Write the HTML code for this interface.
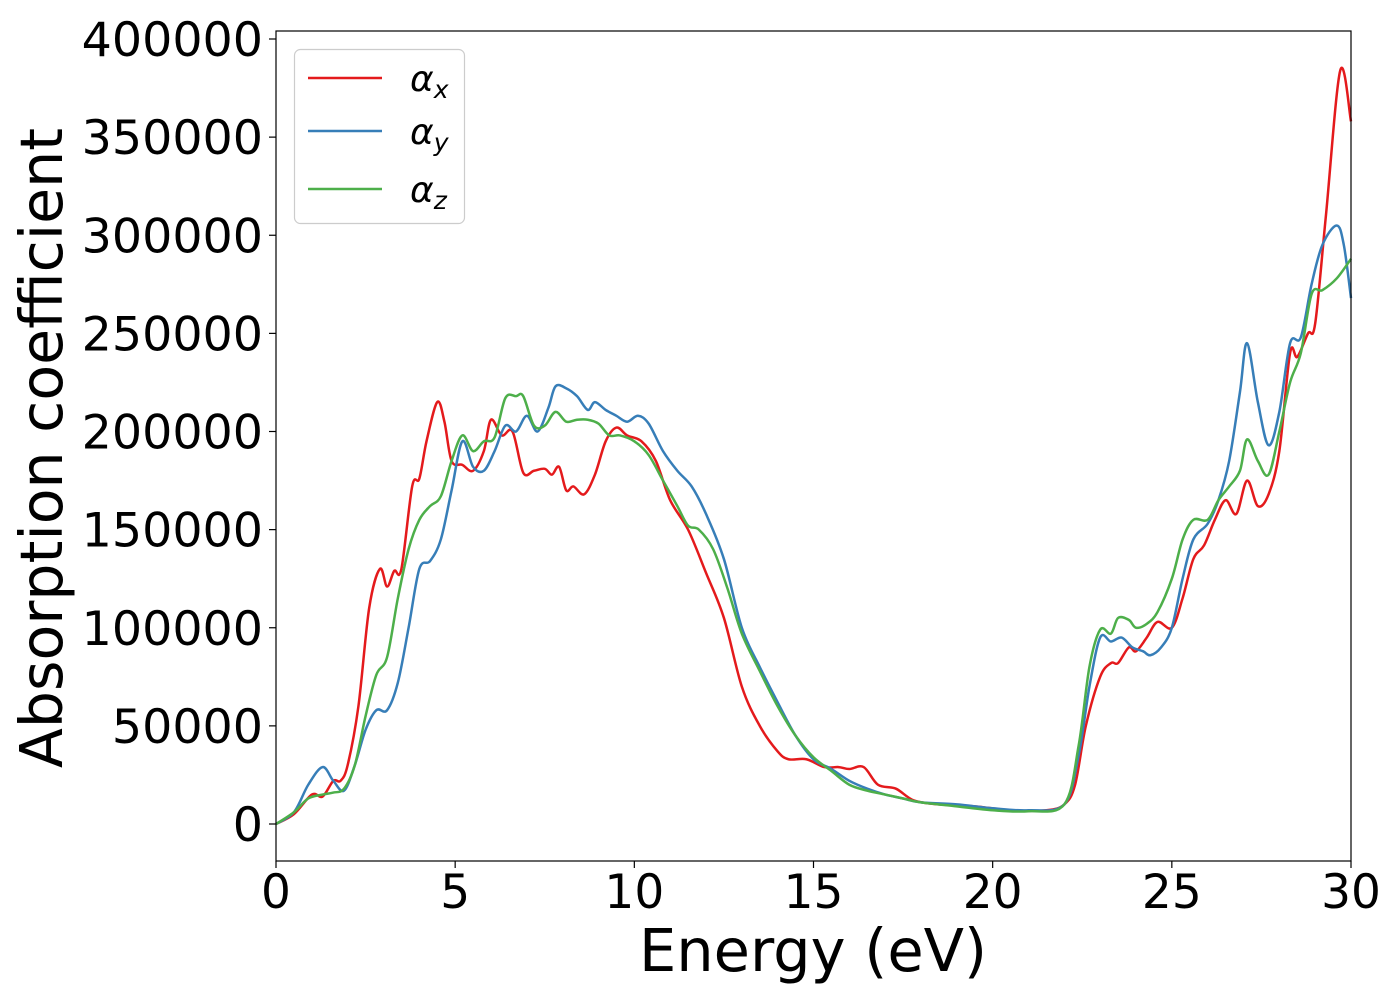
<!DOCTYPE html>
<html><head><meta charset="utf-8"><style>
body{margin:0;background:#fff;}
svg{display:block;font-family:"DejaVu Sans","Liberation Sans",sans-serif;}
</style></head><body>
<svg id="chart" width="1400" height="1000">
<g id="plot"></g>
<rect x="276" y="31" width="1075" height="830" fill="none" stroke="#000" stroke-width="1.2"/>
<g id="axes"></g>
<text x="813" y="971" font-size="59" text-anchor="middle">Energy (eV)</text>
<text transform="translate(62,448) rotate(-90)" font-size="58.5" text-anchor="middle">Absorption coefficient</text>
<g>
<rect x="294.5" y="49.5" width="170" height="174" rx="6" fill="#fff" fill-opacity="0.8" stroke="#ccc" stroke-width="1.2"/>
<line x1="308" y1="78" x2="382" y2="78" stroke="#e41a1c" stroke-width="2.5"/>
<text x="410" y="91" font-size="36" font-style="italic">α<tspan font-size="25" dy="7">x</tspan></text>
<line x1="308" y1="131" x2="382" y2="131" stroke="#377eb8" stroke-width="2.5"/>
<text x="410" y="144" font-size="36" font-style="italic">α<tspan font-size="25" dy="7">y</tspan></text>
<line x1="308" y1="189" x2="382" y2="189" stroke="#4daf4a" stroke-width="2.5"/>
<text x="410" y="202" font-size="36" font-style="italic">α<tspan font-size="25" dy="7">z</tspan></text>
</g>
</svg>
<script>
const xTicks=[0,5,10,15,20,25,30];
const yTicks=[0,50000,100000,150000,200000,250000,300000,350000,400000];
const redE=[0,0.5,1.0,1.3,1.6,1.8,2.0,2.3,2.6,2.9,3.1,3.3,3.5,3.8,4.0,4.2,4.5,4.7,4.9,5.2,5.5,5.8,6.0,6.3,6.6,6.9,7.2,7.5,7.7,7.9,8.1,8.3,8.6,8.9,9.2,9.5,9.8,10.2,10.6,11.0,11.5,12.0,12.5,13.0,13.5,14.0,14.3,14.8,15.3,15.7,16.0,16.4,16.8,17.3,17.8,18.5,19.5,20.5,21.5,22.0,22.3,22.6,23.0,23.3,23.5,23.8,24.0,24.3,24.6,25.0,25.3,25.6,25.9,26.2,26.5,26.8,27.1,27.4,27.7,28.0,28.3,28.5,28.8,29.0,29.3,29.7,30.0];
const redV=[0,5000,15000,14000,22000,22000,30000,60000,110000,130000,121000,129000,130000,172000,176000,195000,215000,205000,185000,183000,180000,190000,206000,198000,200000,179000,180000,181000,178000,182000,170000,172000,168000,178000,195000,202000,198000,195000,185000,165000,150000,128000,105000,70000,50000,37000,33000,33000,29000,29000,28000,29000,20000,18000,12000,10000,9000,7000,7000,10000,20000,50000,75000,82000,82000,90000,88000,95000,103000,100000,115000,135000,142000,155000,165000,158000,175000,162000,168000,190000,240000,238000,250000,255000,310000,384000,358000];
const blueE=[0,0.5,0.9,1.3,1.6,1.9,2.2,2.5,2.8,3.1,3.4,3.7,4.0,4.3,4.6,4.9,5.2,5.5,5.8,6.1,6.4,6.7,7.0,7.3,7.6,7.8,8.1,8.4,8.7,8.9,9.2,9.5,9.8,10.1,10.4,10.8,11.2,11.6,12.0,12.5,13.0,13.5,14.0,14.5,15,15.5,16,16.5,17,17.5,18,19,20,21,22,22.4,22.7,23.0,23.3,23.6,23.9,24.2,24.4,24.7,25,25.3,25.6,26,26.3,26.6,26.9,27.1,27.4,27.7,28,28.3,28.6,28.9,29.2,29.6,29.8,30];
const blueV=[0,6000,20000,29000,22000,17000,30000,48000,58000,58000,72000,100000,130000,134000,145000,170000,195000,182000,180000,190000,203000,200000,208000,200000,212000,223000,222000,218000,211000,215000,211000,208000,205000,208000,204000,190000,180000,172000,158000,135000,100000,80000,62000,45000,33000,28000,22000,18000,15000,13000,11000,10000,8000,7000,10000,35000,70000,95000,93000,95000,90000,88000,86000,90000,100000,125000,145000,153000,165000,185000,220000,245000,215000,193000,210000,245000,248000,275000,295000,305000,295000,268000];
const greenE=[0,0.5,0.9,1.3,1.6,1.9,2.2,2.5,2.8,3.1,3.4,3.7,4.0,4.3,4.6,4.9,5.2,5.5,5.8,6.1,6.4,6.7,6.9,7.2,7.5,7.8,8.1,8.4,8.7,9.0,9.3,9.6,10.0,10.4,10.8,11.2,11.5,11.8,12.2,12.6,13.0,13.5,14.0,14.5,15,15.5,16,16.5,17,17.5,18,19,20,21,22,22.4,22.7,23.0,23.3,23.5,23.8,24,24.3,24.6,25,25.3,25.6,26,26.3,26.6,26.9,27.1,27.4,27.7,28,28.3,28.6,28.9,29.2,29.6,30];
const greenV=[0,6000,13000,15000,16000,18000,30000,55000,76000,85000,115000,140000,155000,162000,167000,185000,198000,190000,195000,197000,217000,218000,218000,203000,203000,210000,205000,206000,206000,204000,198000,198000,195000,188000,175000,162000,152000,150000,140000,120000,97000,78000,60000,45000,34000,27000,20000,17000,15000,13000,11000,9000,7000,6500,10000,40000,80000,99000,97000,105000,104000,100000,102000,108000,125000,145000,155000,155000,165000,172000,180000,196000,185000,178000,200000,225000,240000,270000,272000,278000,288000];
const X=e=>276+e*1075/30;
const Y=v=>824-v*785/400000;
const NS="http://www.w3.org/2000/svg";
const axes=document.getElementById('axes');
xTicks.forEach(t=>{
 const l=document.createElementNS(NS,'line');
 l.setAttribute('x1',X(t));l.setAttribute('x2',X(t));l.setAttribute('y1',861);l.setAttribute('y2',868);
 l.setAttribute('stroke','#000');l.setAttribute('stroke-width','1.2');
 
 
 axes.appendChild(l);
 const tx=document.createElementNS(NS,'text');
 tx.setAttribute('x',X(t));tx.setAttribute('y',908);tx.setAttribute('font-size','47');tx.setAttribute('text-anchor','middle');
 tx.textContent=t;
 
 
 axes.appendChild(tx);
});
yTicks.forEach(t=>{
 const l=document.createElementNS(NS,'line');
 l.setAttribute('x1',269);l.setAttribute('x2',276);l.setAttribute('y1',Y(t));l.setAttribute('y2',Y(t));
 l.setAttribute('stroke','#000');l.setAttribute('stroke-width','1.2');
 
 
 axes.appendChild(l);
 const tx=document.createElementNS(NS,'text');
 tx.setAttribute('x',263);tx.setAttribute('y',Y(t)+17);tx.setAttribute('font-size','47.5');tx.setAttribute('text-anchor','end');
 tx.textContent=t;
 
 
 axes.appendChild(tx);
});
const plot=document.getElementById('plot');
function smooth(E,V){
 const p=E.map((e,i)=>[X(e),Y(V[i])]);
 let d='M'+p[0][0]+','+p[0][1];
 for(let i=0;i<p.length-1;i++){
  const p0=p[Math.max(i-1,0)],p1=p[i],p2=p[i+1],p3=p[Math.min(i+2,p.length-1)];
  const c1=[p1[0]+(p2[0]-p0[0])/6,p1[1]+(p2[1]-p0[1])/6];
  const c2=[p2[0]-(p3[0]-p1[0])/6,p2[1]-(p3[1]-p1[1])/6];
  d+=' C'+c1.join(',')+' '+c2.join(',')+' '+p2.join(',');
 }
 return d;
}
function series(E,V,color,name){
 const path=document.createElementNS(NS,'path');
 path.setAttribute('d',smooth(E,V));
 path.setAttribute('fill','none');path.setAttribute('stroke',color);path.setAttribute('stroke-width','2.5');
 path.setAttribute('stroke-linejoin','round');
 
 
 plot.appendChild(path);
}
series(redE,redV,'#e41a1c','series-alpha-x');
series(blueE,blueV,'#377eb8','series-alpha-y');
series(greenE,greenV,'#4daf4a','series-alpha-z');
</script>
</body></html>
